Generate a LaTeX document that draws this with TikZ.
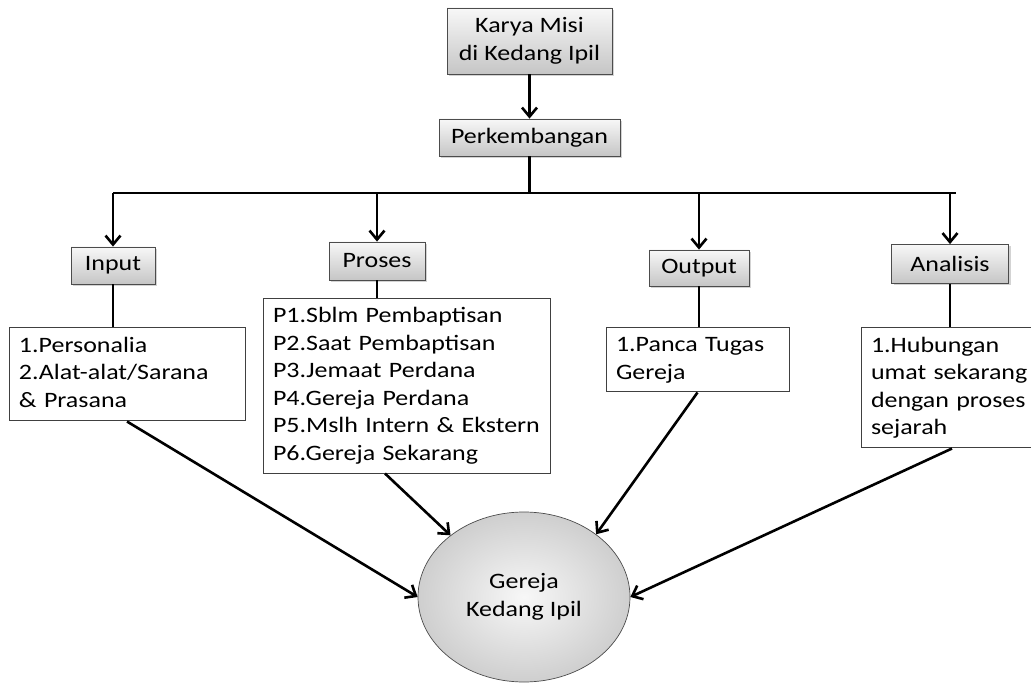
\documentclass[tikz,border=0pt]{standalone}
\usepackage{fontspec}
\setmainfont{Carlito}[FakeStretch=1.18]
\usetikzlibrary{arrows.meta,shadows,shapes.geometric}

\begin{document}
\begin{tikzpicture}[x=1pt,y=-1pt,
    every node/.style={font=\fontsize{22}{27.5}\selectfont},
    head/.style={draw=black!70,line width=.8pt,top color=gray!6,bottom color=gray!45,
      inner sep=0pt,align=center,drop shadow={shadow xshift=2pt,shadow yshift=-2pt,opacity=.35}},
    list/.style={draw=black!75,line width=1pt,fill=white,align=left,inner xsep=10pt,inner ysep=0pt,
      execute at begin node={\hyphenpenalty=10000\strut},execute at end node=\strut},
    link/.style={line width=2.6pt},
    arr/.style={link,-{Straight Barb[length=9pt,width=15pt]}}]
  \useasboundingbox (0,0) rectangle (1031,684);
  % top of the tree
  \node [head,minimum width=165pt,minimum height=66pt] (karya) at (529.5,41) {Karya Misi\\di Kedang Ipil};
  \node [head,minimum width=181pt,minimum height=37pt] (perk) at (529.5,137.5) {Perkembangan};
  \draw [arr] (karya) -- (perk);
  \coordinate (bl) at (113,193);
  \coordinate (br) at (956,193);
  \draw [link] (perk) -- (perk |- bl);
  \draw [link] (bl) -- (br);
  % the four branches
  \node [head,minimum width=84pt,minimum height=37pt] (input) at (113,265.5) {Input};
  \node [head,minimum width=96pt,minimum height=38pt] (proses) at (377,261) {Proses};
  \node [head,minimum width=100pt,minimum height=36pt] (output) at (699,268) {Output};
  \node [head,minimum width=117pt,minimum height=39pt] (analisis) at (950,264) {Analisis};
  \draw [arr] (input |- bl) -- (input);
  \draw [arr] (proses |- bl) -- (proses);
  \draw [arr] (output |- bl) -- (output);
  \draw [arr] (analisis |- bl) -- (analisis);
  % lists
  \node [list,text width=216pt,minimum height=93pt] (inlist) at (127,374.5)
    {1.Personalia\\2.Alat-alat/Sarana\\\& Prasana};
  \node [list,text width=267pt,minimum height=174pt] (proslist) at (406.5,386)
    {P1.Sblm Pembaptisan\\P2.Saat Pembaptisan\\P3.Jemaat Perdana\\P4.Gereja Perdana\\P5.Mslh Intern \& Ekstern\\P6.Gereja Sekarang};
  \node [list,text width=163pt,minimum height=64pt] (outlist) at (697.5,360)
    {1.Panca Tugas\\Gereja};
  \node [list,text width=162pt,minimum height=120pt] (anlist) at (952,388)
    {1.Hubungan\\umat sekarang\\dengan proses\\sejarah};
  \draw [link] (input) -- (input |- inlist.north);
  \draw [link] (proses) -- (proses |- proslist.north);
  \draw [link] (output) -- (output |- outlist.north);
  \draw [link] (analisis) -- (analisis |- anlist.north);
  % result
  \node [ellipse,draw=black!70,line width=.7pt,shading=radial,inner color=gray!6,outer color=gray!38,
    minimum width=212pt,minimum height=170pt,inner sep=0pt,align=center] (church) at (524,597)
    {Gereja\\Kedang Ipil};
  \draw [arr] (inlist.south) -- (church.west);
  \draw [arr] ([xshift=-21.5pt]proslist.south) -- (church.140);
  \draw [arr] (outlist.south) -- (church.41);
  \draw [arr] (anlist.south) -- (church.east);
\end{tikzpicture}
\end{document}
